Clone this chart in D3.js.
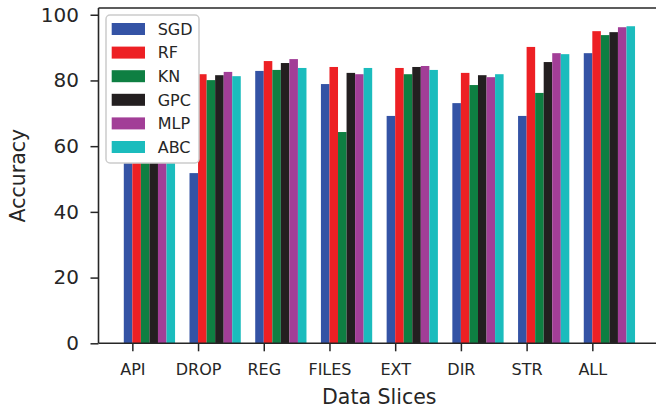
<!DOCTYPE html>
<html>
<head>
<meta charset="utf-8">
<script src="https://cdn.jsdelivr.net/npm/d3@7"></script>
<style>
  html, body { margin:0; padding:0; background:#fff; overflow:hidden; }
  text { font-family: "DejaVu Sans", sans-serif; fill:#262626; }
</style>
</head>
<body>
<svg id="chart" width="656" height="411"></svg>
<script>
// ── data ──
const categories = ['API','DROP','REG','FILES','EXT','DIR','STR','ALL'];
const seriesNames = ['SGD','RF','KN','GPC','MLP','ABC'];
const seriesColors = ['#3453a5','#ed2024','#0e7f42','#231f20','#a23e97','#1bbcbd'];
const sgd = [68.0, 51.8, 82.9, 78.9, 69.2, 73.1, 69.2, 88.3];
const rf  = [74.0, 81.9, 85.9, 84.1, 83.8, 82.3, 90.2, 95.0];
const kn  = [71.0, 80.1, 83.2, 64.3, 81.9, 78.6, 76.2, 93.8];
const gpc = [73.0, 81.6, 85.3, 82.3, 84.1, 81.6, 85.6, 94.7];
const mlp = [72.0, 82.6, 86.5, 81.9, 84.4, 81.0, 88.3, 96.2];
const abc = [72.0, 81.3, 83.8, 83.8, 83.2, 81.9, 88.0, 96.5];
const yTicks = [0, 20, 40, 60, 80, 100];

const values = [sgd, rf, kn, gpc, mlp, abc];
const barW = 0.13;

// ── layout ──
const plotL = 98.5, plotR = 660, plotT = 8, plotB = 343.3;
const svg = d3.select('#chart');

const x = d3.scaleLinear().domain([-0.515, 8.03]).range([plotL, plotR]);
const y = d3.scaleLinear().domain([0, 102.05]).range([plotB, plotT]);

// bars: series s sits at i + (s-1)*w, left-aligned (tick on 2nd bar's left edge)
const gBars = svg.append('g');
values.forEach((vals, s) => {
  gBars.selectAll(null)
    .data(vals)
    .enter().append('rect')
    .attr('x', (d, i) => x(i + (s - 1) * barW))
    .attr('width', x(barW) - x(0))
    .attr('y', d => y(d))
    .attr('height', d => y(0) - y(d))
    .attr('fill', seriesColors[s]);
});

// axes
const yAxis = d3.axisLeft(y).tickValues(yTicks).tickSize(8).tickPadding(11.5);
const gy = svg.append('g').attr('transform', `translate(${plotL},0)`).call(yAxis);
gy.select('.domain').remove();
gy.selectAll('line').attr('stroke', '#262626').attr('stroke-width', 1.5);
gy.selectAll('text').attr('font-size', 20).attr('fill', '#262626');

const xAxis = d3.axisBottom(x).tickValues(d3.range(categories.length))
  .tickFormat(i => categories[i]).tickSize(8).tickPadding(12.3);
const gx = svg.append('g').attr('transform', `translate(0,${plotB})`).call(xAxis);
gx.select('.domain').remove();
gx.selectAll('line').attr('stroke', '#262626').attr('stroke-width', 1.5);
gx.selectAll('text').attr('font-size', 16).attr('fill', '#262626');

// spines
svg.append('line').attr('x1', plotL).attr('x2', plotL).attr('y1', plotT).attr('y2', plotB)
  .attr('stroke', '#262626').attr('stroke-width', 1.6);
svg.append('line').attr('x1', plotL).attr('x2', plotR).attr('y1', plotB).attr('y2', plotB)
  .attr('stroke', '#262626').attr('stroke-width', 1.6);
svg.append('line').attr('x1', plotL).attr('x2', plotR).attr('y1', plotT).attr('y2', plotT)
  .attr('stroke', '#262626').attr('stroke-width', 1.6);

// axis titles
svg.append('text').attr('x', (plotL + plotR) / 2).attr('y', 404)
  .attr('text-anchor', 'middle').attr('font-size', 20.5).text('Data Slices');
svg.append('text').attr('transform', `translate(25,${(plotT + plotB) / 2}) rotate(-90)`)
  .attr('text-anchor', 'middle').attr('font-size', 20.5).text('Accuracy');

// legend
const lg = svg.append('g');
lg.append('rect').attr('x', 106).attr('y', 15).attr('width', 93).attr('height', 148)
  .attr('rx', 4).attr('fill', '#fff').attr('stroke', '#cccccc').attr('stroke-width', 1.5);
seriesNames.forEach((name, s) => {
  const cy = 29 + s * 23.6;
  lg.append('rect').attr('x', 111.7).attr('y', cy - 6).attr('width', 33.3).attr('height', 12)
    .attr('fill', seriesColors[s]);
  lg.append('text').attr('x', 157.7).attr('y', cy).attr('dy', '0.36em')
    .attr('font-size', 16).text(name);
});
</script>
</body>
</html>
